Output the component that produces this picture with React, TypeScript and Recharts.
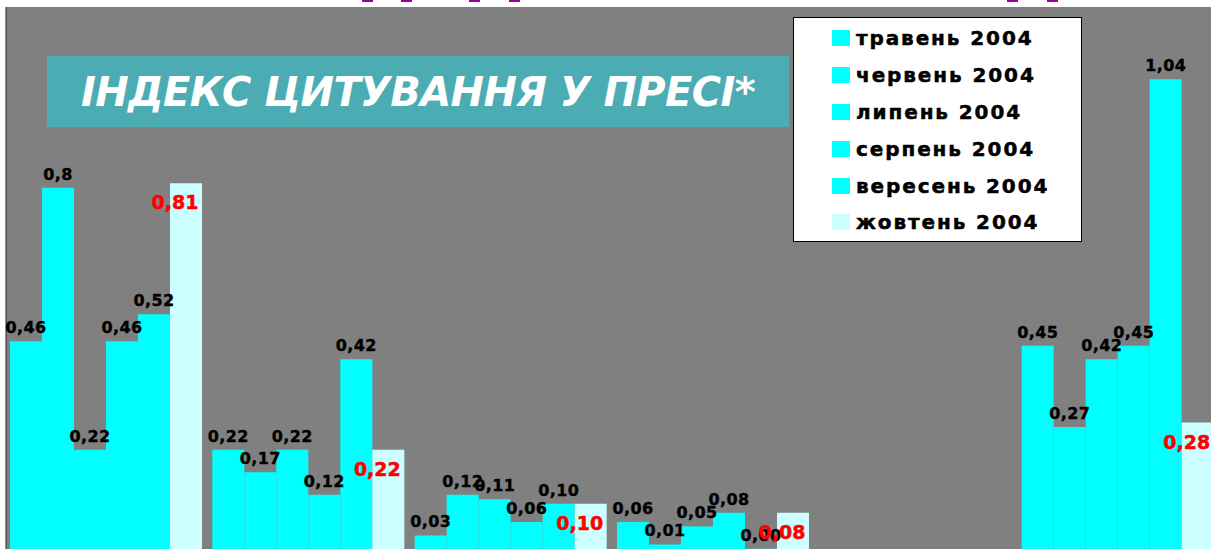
import React from "react";
import { Bar, BarChart, CartesianGrid, LabelList, Legend, XAxis, YAxis } from "recharts";

const categories = ["1", "2", "3", "4", "5", "6"];

const seriesNames = ["травень 2004", "червень 2004", "липень 2004", "серпень 2004", "вересень 2004", "жовтень 2004"];

const may = [0.46, 0.22, 0.03, 0.06, null, 0.45];
const june = [0.8, 0.17, 0.12, 0.01, null, 0.27];
const july = [0.22, 0.22, 0.11, 0.05, null, 0.42];
const august = [0.46, 0.12, 0.06, 0.08, null, 0.45];
const september = [0.52, 0.42, 0.1, 0.0, null, 1.04];
const october = [0.81, 0.22, 0.1, 0.08, null, 0.28];

// labels as printed on the chart (one cell keeps a single decimal)
const mayLabels = ["0,46", "0,22", "0,03", "0,06", "", "0,45"];
const juneLabels = ["0,8", "0,17", "0,12", "0,01", "", "0,27"];
const julyLabels = ["0,22", "0,22", "0,11", "0,05", "", "0,42"];
const augustLabels = ["0,46", "0,12", "0,06", "0,08", "", "0,45"];
const septemberLabels = ["0,52", "0,42", "0,10", "0,00", "", "1,04"];
const octoberLabels = ["0,81", "0,22", "0,10", "0,08", "", "0,28"];

const yTicks = [0, 0.2, 0.4, 0.6, 0.8, 1, 1.2];
const edgeTicks = [0, 1, 2, 3, 4, 5, 6];

const seriesValues = [may, june, july, august, september, october];
const seriesLabels = [mayLabels, juneLabels, julyLabels, augustLabels, septemberLabels, octoberLabels];
const colors = ["#00FFFF", "#00FFFF", "#00FFFF", "#00FFFF", "#00FFFF", "#CCFFFF"];

const data = categories.map((c, i) => {
  const row: Record<string, string | number | null> = { name: c };
  seriesValues.forEach((vals, s) => {
    row["s" + s] = vals[i];
  });
  return row;
});

const FONT = '"DejaVu Sans", Verdana, sans-serif';

function makeLabel(s: number) {
  const highlight = s === 5;
  return (props: any) => {
    const { x, y, width, height, value } = props;
    if (value == null) return null;
    const idx = seriesValues[s].indexOf(Number(value));
    const text = seriesLabels[s][idx];
    if (!text) return null;
    const cx = Number(x) + Number(width) / 2;
    // zero bars get a hairline min size, take the label from the baseline
    const top = Number(value) === 0 ? Number(y) + Number(height) : Number(y);
    if (highlight) {
      return (
        <text
          x={cx - 11}
          y={top + 26}
          textAnchor="middle"
          fill="#FF0000"
          stroke="#FF0000"
          strokeWidth={0.5}
          fontFamily={FONT}
          fontWeight="bold"
          fontSize={19}
        >
          {text}
        </text>
      );
    }
    return (
      <text
        x={cx}
        y={top - 8}
        textAnchor="middle"
        fill="#000000"
        stroke="#000000"
        strokeWidth={0.4}
        fontFamily={FONT}
        fontWeight="bold"
        fontSize={16}
        letterSpacing={0.4}
      >
        {text}
      </text>
    );
  };
}

function LegendBox() {
  return (
    <div
      style={{
        width: 289,
        height: 225,
        boxSizing: "border-box",
        background: "#FFFFFF",
        border: "1px solid #000000",
        paddingTop: 2,
        fontFamily: FONT,
      }}
    >
      {seriesNames.map((n, i) => (
        <div key={n} style={{ display: "flex", alignItems: "center", height: 36.8, paddingLeft: 38 }}>
          <span style={{ width: 18, height: 16, background: colors[i], marginRight: 6 }} />
          <span
            style={{
              fontSize: 20,
              fontWeight: "bold",
              color: "#000",
              letterSpacing: 1.9,
              WebkitTextStroke: "0.5px #000",
            }}
          >
            {n}
          </span>
        </div>
      ))}
    </div>
  );
}

const marks = [362, 401, 469, 509, 1007, 1047];

export default function App() {
  return (
    <div style={{ position: "absolute", left: 0, top: 0, width: 1211, height: 551, overflow: "hidden", background: "#FFFFFF" }}>
      <BarChart
        width={1220}
        height={551}
        data={data}
        margin={{ top: 7, right: 0, left: 0, bottom: 0 }}
        barGap={0}
        barCategoryGap={4}
      >
        <CartesianGrid fill="#808080" horizontal={false} vertical={false} stroke="none" />
        <XAxis xAxisId="cat" dataKey="name" hide />
        <XAxis
          xAxisId="edge"
          type="number"
          domain={[0, 6]}
          ticks={edgeTicks}
          height={2}
          tick={false}
          tickSize={4}
          axisLine={{ stroke: "#000000" }}
          tickLine={{ stroke: "#000000" }}
          allowDataOverflow
        />
        <YAxis
          domain={[0, 1.2]}
          ticks={yTicks}
          width={6}
          tick={false}
          tickSize={6}
          axisLine={{ stroke: "#222222" }}
          tickLine={{ stroke: "#222222" }}
          allowDataOverflow
        />
        <Legend
          layout="vertical"
          align="center"
          verticalAlign="middle"
          content={() => <LegendBox />}
          wrapperStyle={{ position: "absolute", left: 793, top: 17, width: 289, height: 225 }}
        />
        {seriesNames.map((n, s) => (
          <Bar
            key={n}
            xAxisId="cat"
            dataKey={"s" + s}
            name={n}
            fill={colors[s]}
            minPointSize={(v: any) => (v === 0 ? 0.2 : 0)}
            isAnimationActive={false}
          >
            <LabelList dataKey={"s" + s} content={makeLabel(s)} />
          </Bar>
        ))}
      </BarChart>
      <div
        style={{
          position: "absolute",
          left: 47,
          top: 56,
          width: 742,
          height: 71,
          background: "#4BACB4",
          display: "flex",
          alignItems: "center",
          justifyContent: "center",
          color: "#FFFFFF",
          fontFamily: FONT,
          fontWeight: "bold",
          fontStyle: "italic",
          fontSize: 40,
          letterSpacing: -0.6,
          whiteSpace: "nowrap",
        }}
      >
        ІНДЕКС ЦИТУВАННЯ У ПРЕСІ*
      </div>
      {marks.map((m) => (
        <div key={m} style={{ position: "absolute", left: m, top: 0, width: 11, height: 2, background: "#990099" }} />
      ))}
    </div>
  );
}
